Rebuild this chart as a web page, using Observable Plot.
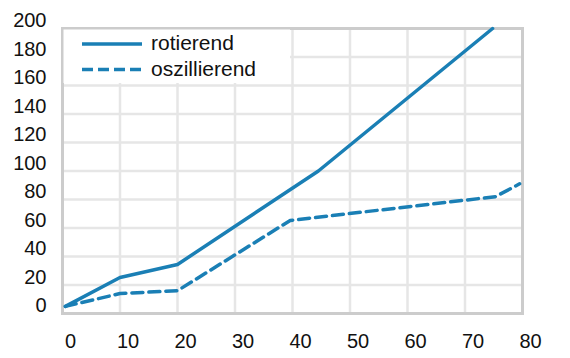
<!DOCTYPE html>
<html>
<head>
<meta charset="utf-8">
<script src="https://cdn.jsdelivr.net/npm/d3@7"></script>
<script src="https://cdn.jsdelivr.net/npm/@observablehq/plot@0.6"></script>
<style>
  html, body { margin: 0; padding: 0; background: #fff; }
  #chart { width: 570px; height: 358px; }
</style>
</head>
<body>
<div id="chart"></div>
<script>
// Data
const seriesNames = ["rotierend", "oszillierend"];
const rotierendX = [0.5, 10, 20, 44.5, 74.8];
const rotierendY = [5, 25.3, 34.4, 100, 200];
const oszillierendX = [0.5, 10, 20, 39.6, 75.3, 79.5];
const oszillierendY = [5, 14, 16, 65.3, 82, 91];
const xTicks = [0, 10, 20, 30, 40, 50, 60, 70, 80];
const yTicks = [0, 20, 40, 60, 80, 100, 120, 140, 160, 180, 200];

const rot = rotierendX.map((x, i) => ({x, y: rotierendY[i]}));
const osz = oszillierendX.map((x, i) => ({x, y: oszillierendY[i]}));

const color = "#1a7fb5";
const font = "'Liberation Sans', Arial, Helvetica, sans-serif";
const W = 570, H = 358;
const mL = 62, mR = 48, mT = 28, mB = 45;

const chart = Plot.plot({
  width: W,
  height: H,
  marginLeft: mL,
  marginRight: mR,
  marginTop: mT,
  marginBottom: mB,
  style: {fontFamily: font, fontSize: "20px", color: "#111", background: "#fff"},
  x: {domain: [0, 80]},
  y: {domain: [0, 200]},
  marks: [
    Plot.gridX(xTicks, {stroke: "#e6e6e6", strokeOpacity: 1, strokeWidth: 2.5}),
    Plot.gridY(yTicks, {stroke: "#e6e6e6", strokeOpacity: 1, strokeWidth: 2.5}),
    Plot.frame({stroke: "#cccccc", strokeWidth: 3}),
    Plot.axisX(xTicks, {tickSize: 0, tickPadding: 20, dx: 8, fontSize: 20, label: null, fill: "#111"}),
    Plot.axisY(yTicks, {tickSize: 0, tickPadding: 16, dy: -7.5, fontSize: 20, label: null, fill: "#111"}),
    Plot.line(osz, {x: "x", y: "y", stroke: color, strokeWidth: 3.5, strokeDasharray: "11,6"}),
    Plot.line(rot, {x: "x", y: "y", stroke: color, strokeWidth: 3.5})
  ]
});

document.getElementById("chart").appendChild(chart);

// Legend (layout overlay inside the plot frame)
const svg = d3.select(chart);
const g = svg.append("g")
  .attr("font-family", font)
  .attr("text-anchor", "start")
  .style("text-anchor", "start");
g.append("rect")
  .attr("x", mL + 1.5).attr("y", mT + 1.5)
  .attr("width", 290 - mL - 1.5).attr("height", 83 - mT - 1.5)
  .attr("fill", "#ffffff")
  .style("fill", "#ffffff")
  .attr("stroke", "none");
const legendY = [44, 69.5];
seriesNames.forEach((name, i) => {
  g.append("line")
    .attr("x1", 82).attr("x2", 142)
    .attr("y1", legendY[i]).attr("y2", legendY[i])
    .attr("stroke", color).attr("stroke-width", 3.5)
    .attr("stroke-dasharray", i === 1 ? "11,5" : null);
  g.append("text")
    .attr("x", 151).attr("y", legendY[i])
    .attr("dy", "0.3em")
    .attr("font-size", 21)
    .attr("fill", "#111")
    .attr("text-anchor", "start")
    .style("text-anchor", "start")
    .text(name);
});
</script>
</body>
</html>
